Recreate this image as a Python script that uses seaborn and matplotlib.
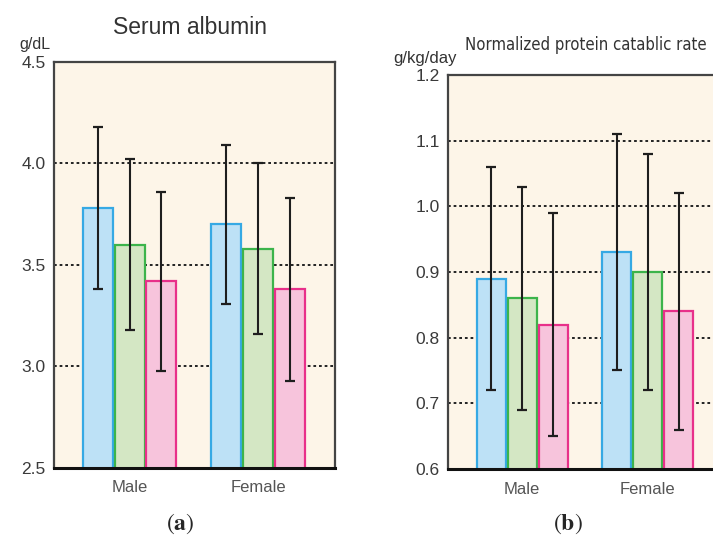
import matplotlib

matplotlib.use("Agg")
import matplotlib.pyplot as plt
from matplotlib import font_manager
import numpy as np
import pandas as pd
import seaborn as sns

sexes = ["Male", "Female"]
groups = ["G1", "G2", "G3"]

# serum albumin (g/dL): means and SD, ordered Male G1..G3, Female G1..G3
alb_mean = [3.78, 3.60, 3.42, 3.70, 3.58, 3.38]
alb_sd = [0.40, 0.42, 0.44, 0.39, 0.42, 0.45]

# nPCR (g/kg/day)
npcr_mean = [0.89, 0.86, 0.82, 0.93, 0.90, 0.84]
npcr_sd = [0.17, 0.17, 0.17, 0.18, 0.18, 0.18]

alb_ticks = [2.5, 3.0, 3.5, 4.0, 4.5]
npcr_ticks = [0.6, 0.7, 0.8, 0.9, 1.0, 1.1, 1.2]

fills = ["#bde1f6", "#d4e7c4", "#f7c4dc"]
edges = ["#36a9e4", "#3cb44b", "#e8308a"]
bg = "#fdf5e8"

sns.set_style("white")
plt.rcParams["font.family"] = ["Liberation Sans", "DejaVu Sans"]
plt.rcParams["mathtext.fontset"] = "stix"

# condensed face for the nPCR title if one is installed
narrow_prop = font_manager.FontProperties(family="DejaVu Sans", stretch="condensed")
narrow_path = font_manager.findfont(narrow_prop, fallback_to_default=True)
if "Condensed" in narrow_path:
    narrow_kw = dict(fontproperties=font_manager.FontProperties(fname=narrow_path))
    narrow_size = 12
else:
    narrow_kw = dict(family="Liberation Sans")
    narrow_size = 11.5


def panel(ax, means, sds, ticks):
    df = pd.DataFrame({
        "sex": np.repeat(sexes, len(groups)),
        "group": groups * len(sexes),
        "value": means,
        "sd": sds,
    })
    ax.set_facecolor(bg)
    for t in ticks[1:-1]:
        ax.axhline(t, color="#222222", lw=1.4, ls=(0, (1.4, 1.5)), zorder=0.5)
    sns.barplot(data=df, x="sex", y="value", hue="group", hue_order=groups,
                order=sexes, palette=fills, saturation=1, width=0.74, gap=0.06,
                errorbar=None, legend=False, ax=ax, zorder=2)
    # bars come out hue-major: all G1, then G2, then G3
    lookup = df.set_index(["sex", "group"])
    for i, p in enumerate(ax.patches):
        g, s = divmod(i, len(sexes))
        p.set_edgecolor(edges[g])
        p.set_linewidth(1.6)
        row = lookup.loc[(sexes[s], groups[g])]
        xc = p.get_x() + p.get_width() / 2
        ax.errorbar(xc, row["value"], yerr=row["sd"], fmt="none",
                    ecolor="#1e1e1e", elinewidth=1.5, capsize=3.5,
                    capthick=1.6, zorder=3)
    ax.set_ylim(ticks[0], ticks[-1])
    ax.set_xlim(-0.59, 1.6)
    ax.set_yticks(ticks)
    ax.set_yticklabels([f"{t:.1f}" for t in ticks], fontsize=12.5,
                       color="#3a3a3a")
    ax.tick_params(axis="y", length=0, pad=6)
    ax.tick_params(axis="x", length=0, pad=9, labelsize=12, labelcolor="#555555")
    ax.set_xlabel("")
    ax.set_ylabel("")
    for side in ["left", "top", "right"]:
        ax.spines[side].set_color("#444444")
        ax.spines[side].set_linewidth(1.6)
    ax.spines["bottom"].set_color("#111111")
    ax.spines["bottom"].set_linewidth(2.2)
    return ax


fig = plt.figure(figsize=(7.13, 5.47), dpi=100)
ax1 = fig.add_axes([54 / 713, 79 / 547, 281 / 713, 406 / 547])
ax2 = fig.add_axes([448 / 713, 78 / 547, 275 / 713, 394 / 547])

panel(ax1, alb_mean, alb_sd, alb_ticks)
panel(ax2, npcr_mean, npcr_sd, npcr_ticks)

fig.text(190 / 713, 1 - 27 / 547, "Serum albumin", ha="center", va="center",
         fontsize=16.5, color="#333333")
fig.text(35 / 713, 1 - 45 / 547, "g/dL", ha="center", va="center",
         fontsize=11.5, color="#333333")
fig.text(465 / 713, 1 - 45 / 547, "Normalized protein catablic rate",
         ha="left", va="center", fontsize=narrow_size, color="#333333",
         **narrow_kw)
fig.text(425 / 713, 1 - 58 / 547, "g/kg/day", ha="center", va="center",
         fontsize=12, color="#333333")

fig.text(180 / 713, 1 - 524 / 547, r"($\mathbf{a}$)", ha="center",
         va="center", fontsize=17, family="STIXGeneral")
fig.text(568 / 713, 1 - 524 / 547, r"($\mathbf{b}$)", ha="center",
         va="center", fontsize=17, family="STIXGeneral")

fig.savefig("out.png", dpi=100)
